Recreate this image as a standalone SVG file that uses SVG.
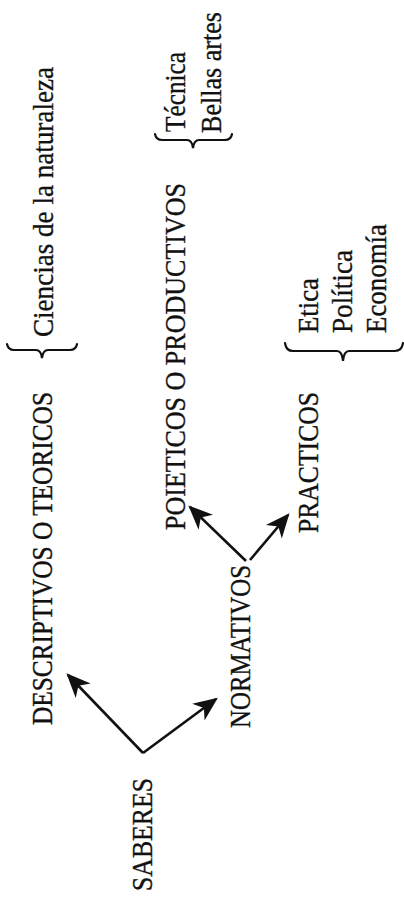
<svg xmlns="http://www.w3.org/2000/svg" width="404" height="899" viewBox="0 0 404 899">
<style>
  text { font-family: "Liberation Serif", "Times New Roman", serif; font-size: 29px; fill: #111; stroke: #111; stroke-width: 0.35; }
  .conn { stroke: #111; stroke-width: 2.6; fill: none; }
  .brace { stroke: #111; stroke-width: 2.2; fill: none; stroke-linecap: round; }
</style>
<defs>
  <marker id="ah" markerUnits="userSpaceOnUse" markerWidth="30" markerHeight="30" refX="0" refY="0" viewBox="-22 -12 26 24" orient="auto">
    <path d="M2,0 L-19,-9 L-13,0 L-19,9 Z" fill="#111"/>
  </marker>
</defs>
<rect width="404" height="899" fill="#fff"/>
<g id="connectors">
  <line class="conn" x1="143" y1="753" x2="68" y2="675" marker-end="url(#ah)"/>
  <line class="conn" x1="143" y1="753" x2="216" y2="699" marker-end="url(#ah)"/>
  <line class="conn" x1="246" y1="561" x2="190" y2="507" marker-end="url(#ah)"/>
  <line class="conn" x1="250" y1="560" x2="288" y2="515" marker-end="url(#ah)"/>
</g>
<g id="saberes"><text transform="translate(152,891) rotate(-90)" textLength="113" lengthAdjust="spacingAndGlyphs">SABERES</text></g>
<g id="descriptivos"><text transform="translate(52,725) rotate(-90)" textLength="333" lengthAdjust="spacingAndGlyphs">DESCRIPTIVOS O TEORICOS</text></g>
<g id="normativos"><text transform="translate(250,728) rotate(-90)" textLength="163" lengthAdjust="spacingAndGlyphs">NORMATIVOS</text></g>
<g id="poieticos"><text transform="translate(185,530) rotate(-90)" textLength="347" lengthAdjust="spacingAndGlyphs">POIETICOS O PRODUCTIVOS</text></g>
<g id="practicos"><text transform="translate(318,533) rotate(-90)" textLength="141" lengthAdjust="spacingAndGlyphs">PRACTICOS</text></g>
<g id="ciencias">
  <path class="brace" d="M7,344 Q8,350 14,350 L36,350 Q41,350 42,358 Q43,350 48,350 L70,350 Q76,350 77,344"/>
  <text transform="translate(53,337) rotate(-90)" textLength="270" lengthAdjust="spacingAndGlyphs">Ciencias de la naturaleza</text>
</g>
<g id="poieticos-items">
  <path class="brace" d="M155,134 Q156,140 162,140 L187,140 Q192,140 193,148 Q194,140 199,140 L225,140 Q231,140 232,134"/>
  <text transform="translate(185,132) rotate(-90)" textLength="80" lengthAdjust="spacingAndGlyphs">Técnica</text>
  <text transform="translate(221,133) rotate(-90)" textLength="121" lengthAdjust="spacingAndGlyphs">Bellas artes</text>
</g>
<g id="practicos-items">
  <path class="brace" d="M285,343 Q286,351 293,351 L337,351 Q342,351 343,361 Q344,351 349,351 L395,351 Q402,351 403,343"/>
  <text transform="translate(318,333) rotate(-90)" textLength="55" lengthAdjust="spacingAndGlyphs">Etica</text>
  <text transform="translate(352,333) rotate(-90)" textLength="83" lengthAdjust="spacingAndGlyphs">Política</text>
  <text transform="translate(386,333) rotate(-90)" textLength="109" lengthAdjust="spacingAndGlyphs">Economía</text>
</g>
</svg>
